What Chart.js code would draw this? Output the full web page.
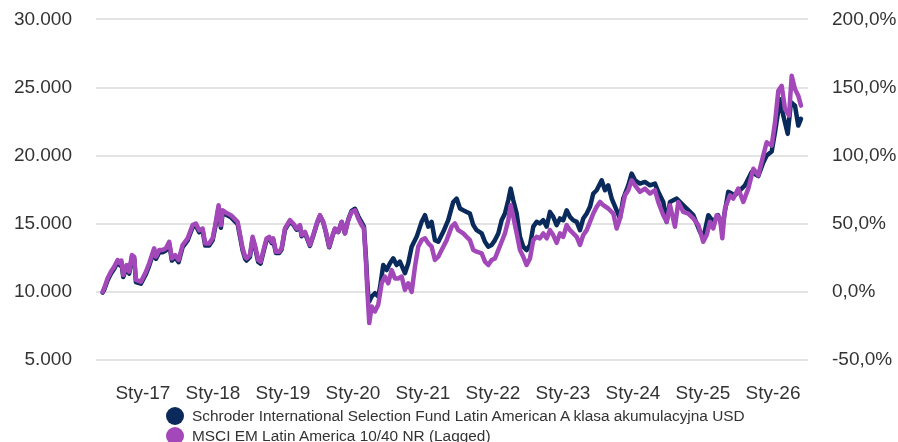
<!DOCTYPE html>
<html>
<head>
<meta charset="utf-8">
<script src="https://cdn.jsdelivr.net/npm/chart.js@4.4.1/dist/chart.umd.min.js"></script>
<style>
  html, body { margin: 0; padding: 0; background: #fff; }
  #wrap { position: relative; width: 898px; height: 442px; overflow: hidden; font-family: "Liberation Sans", Arial, sans-serif; }
  #c { position: absolute; left: 0; top: -16px; }
  .leg { position: absolute; left: 166px; height: 20px; line-height: 20px; font-size: 15.4px; color: #333; white-space: nowrap; }
  .leg span.dot { position: absolute; left: 0; top: 1px; width: 18px; height: 18px; border-radius: 50%; }
  .leg span.txt { position: absolute; left: 26px; top: 0; }
</style>
</head>
<body>
<div id="wrap">
  <canvas id="c" width="898" height="458"></canvas>
  <div class="leg" style="top:406px"><span class="dot" style="background:#0a2a5c"></span><span class="txt">Schroder International Selection Fund Latin American A klasa akumulacyjna USD</span></div>
  <div class="leg" style="top:426px"><span class="dot" style="background:#a348b9"></span><span class="txt">MSCI EM Latin America 10/40 NR (Lagged)</span></div>
</div>
<script>
// Series names
const seriesNames = [
  "Schroder International Selection Fund Latin American A klasa akumulacyjna USD",
  "MSCI EM Latin America 10/40 NR (Lagged)"
];

// x values are decimal years
const indexDates = [
  2016.424,2016.447,2016.496,2016.543,2016.590,2016.639,2016.671,2016.693,2016.719,2016.767,
  2016.804,2016.843,2016.876,2016.900,2016.971,2017.043,2017.090,2017.161,2017.186,2017.233,
  2017.281,2017.329,2017.376,2017.414,2017.461,2017.510,2017.567,2017.639,2017.710,2017.757,
  2017.804,2017.853,2017.890,2017.947,2017.996,2018.033,2018.081,2018.114,2018.139,2018.210,
  2018.257,2018.304,2018.353,2018.424,2018.461,2018.481,2018.529,2018.567,2018.600,2018.647,
  2018.681,2018.729,2018.767,2018.804,2018.839,2018.861,2018.900,2018.947,2018.981,2019.029,
  2019.100,2019.147,2019.196,2019.243,2019.267,2019.314,2019.386,2019.433,2019.490,2019.529,
  2019.576,2019.614,2019.661,2019.710,2019.743,2019.790,2019.839,2019.886,2019.933,2019.981,
  2020.029,2020.076,2020.124,2020.157,2020.186,2020.204,2020.233,2020.267,2020.314,2020.361,
  2020.410,2020.457,2020.504,2020.553,2020.600,2020.647,2020.696,2020.743,2020.790,2020.839,
  2020.886,2020.933,2020.981,2021.029,2021.076,2021.124,2021.171,2021.219,2021.267,2021.339,
  2021.410,2021.457,2021.504,2021.576,2021.624,2021.671,2021.719,2021.767,2021.839,2021.886,
  2021.933,2021.981,2022.029,2022.076,2022.124,2022.171,2022.219,2022.253,2022.290,2022.339,
  2022.386,2022.433,2022.481,2022.529,2022.576,2022.624,2022.671,2022.719,2022.767,2022.814,
  2022.861,2022.910,2022.957,2023.004,2023.053,2023.100,2023.147,2023.196,2023.243,2023.290,
  2023.339,2023.386,2023.433,2023.481,2023.529,2023.576,2023.647,2023.719,2023.767,2023.814,
  2023.886,2023.933,2023.981,2024.029,2024.100,2024.171,2024.243,2024.314,2024.361,2024.433,
  2024.481,2024.529,2024.600,2024.647,2024.719,2024.790,2024.861,2024.933,2025.004,2025.053,
  2025.100,2025.147,2025.196,2025.243,2025.276,2025.314,2025.386,2025.433,2025.504,2025.576,
  2025.647,2025.719,2025.790,2025.861,2025.910,2025.981,2026.029,2026.076,2026.124,2026.171,
  2026.229,2026.267,2026.314,2026.361,2026.400
];
const indexValues = [
  10000,10270,11000,11480,11850,12340,12100,12300,11240,11970,
  11480,12700,12580,10880,10750,11480,12100,13200,12580,13070,
  13070,13200,13680,12460,12700,12340,13440,13930,14900,15020,
  14530,14650,13560,13560,13930,14900,16360,14900,15990,15750,
  15630,15390,15140,13200,12580,12460,12700,14040,13440,12340,
  12220,13200,13930,14040,13680,13930,12950,12950,13200,14650,
  15260,15020,14650,14900,14170,14410,13440,14170,15140,15630,
  15140,14410,13320,14170,14650,14410,15140,14290,15260,15870,
  15990,15390,14900,14650,12220,10270,7710,8930,8560,9050,
  10630,11120,10630,11600,10990,10990,11120,10150,10630,10000,
  11850,13320,13800,13930,13560,13320,12340,12580,13070,13800,
  14790,15020,14530,14290,14040,13800,13070,12950,12830,12220,
  11970,12340,12460,13070,13680,14290,15260,16360,15510,14290,
  13070,12580,11970,12460,13800,14040,13930,14290,13930,14530,
  14170,13600,14290,14040,14900,14530,14290,14040,13440,14170,
  14530,15140,15750,16240,16600,16360,16120,15750,14650,15390,
  17090,17460,18190,17820,17340,17580,17220,17460,16600,15630,
  15140,16360,14790,16600,15870,15750,15390,14900,13680,14170,
  15140,14650,15630,15390,13930,16120,17090,16850,17580,16600,
  17580,19040,18550,20010,20980,20740,22440,24770,25130,23430,
  22940,25860,24890,24400,23670
];

const fundDates = [
  2016.424,2016.447,2016.496,2016.543,2016.590,2016.639,2016.671,2016.693,2016.719,2016.767,
  2016.804,2016.843,2016.876,2016.900,2016.971,2017.043,2017.090,2017.161,2017.186,2017.233,
  2017.281,2017.329,2017.376,2017.414,2017.461,2017.510,2017.567,2017.639,2017.710,2017.757,
  2017.804,2017.853,2017.890,2017.947,2017.996,2018.033,2018.081,2018.114,2018.139,2018.210,
  2018.257,2018.304,2018.353,2018.424,2018.461,2018.481,2018.529,2018.567,2018.600,2018.647,
  2018.681,2018.729,2018.767,2018.804,2018.839,2018.861,2018.900,2018.947,2018.981,2019.029,
  2019.100,2019.147,2019.196,2019.243,2019.267,2019.314,2019.386,2019.433,2019.490,2019.529,
  2019.576,2019.614,2019.661,2019.710,2019.743,2019.790,2019.839,2019.886,2019.933,2019.981,
  2020.029,2020.076,2020.124,2020.157,2020.186,2020.204,2020.219,2020.233,2020.267,2020.314,
  2020.361,2020.386,2020.433,2020.481,2020.529,2020.576,2020.624,2020.671,2020.743,2020.790,
  2020.839,2020.910,2020.981,2021.029,2021.076,2021.124,2021.171,2021.219,2021.290,2021.361,
  2021.433,2021.481,2021.529,2021.576,2021.624,2021.671,2021.719,2021.767,2021.839,2021.886,
  2021.933,2021.981,2022.029,2022.076,2022.124,2022.171,2022.219,2022.253,2022.290,2022.339,
  2022.386,2022.433,2022.481,2022.529,2022.576,2022.624,2022.671,2022.719,2022.767,2022.814,
  2022.861,2022.910,2022.957,2023.004,2023.053,2023.100,2023.147,2023.196,2023.243,2023.290,
  2023.339,2023.386,2023.433,2023.481,2023.553,2023.600,2023.647,2023.696,2023.767,2023.814,
  2023.861,2023.933,2023.981,2024.029,2024.100,2024.171,2024.243,2024.314,2024.361,2024.433,
  2024.481,2024.529,2024.624,2024.719,2024.790,2024.861,2024.957,2025.004,2025.076,2025.147,
  2025.214,2025.276,2025.361,2025.457,2025.600,2025.696,2025.790,2025.861,2025.910,2025.981,
  2026.029,2026.100,2026.147,2026.210,2026.257,2026.314,2026.361,2026.400
];
const fundValues = [
  9950,10150,10850,11330,11700,12180,11950,12150,11100,11800,
  11330,12550,12420,10720,10600,11300,11930,13030,12420,12900,
  12900,13030,13520,12300,12540,12180,13280,13780,14740,14860,
  14370,14490,13400,13400,13780,14740,16150,14700,15800,15600,
  15480,15230,14980,13050,12430,12300,12560,13900,13300,12200,
  12080,13080,13820,13940,13580,13830,12850,12850,13110,14560,
  15180,14940,14570,14820,14090,14330,13380,14110,15080,15580,
  15090,14360,13270,14130,14620,14390,15130,14300,15300,15950,
  16100,15550,15100,14800,12500,10800,9660,9300,9660,9900,
  9660,10300,11970,11600,12100,12460,11970,12220,11370,12100,
  13320,14040,15140,15630,14790,15140,13800,13680,14410,15260,
  16600,16850,16120,15990,15870,15750,14900,14530,14290,13680,
  13320,13440,13800,14290,15260,15750,16730,17580,16730,15750,
  14040,13320,13070,13440,14790,15140,15020,15260,14790,15870,
  15510,14900,15390,15260,15990,15510,15260,15140,14530,15390,
  15750,16240,17220,17460,18190,17460,17820,16850,15990,15390,
  16850,17820,18680,18190,17950,18070,17820,17950,17340,16600,
  15140,16600,16850,16360,16000,15630,14410,13930,15630,15140,
  15630,14800,17340,17100,17820,18800,18500,19500,20010,20300,
  21720,24150,22940,21600,23920,23670,22210,22700
];

// Axis ticks
const xTickYears = [2017,2018,2019,2020,2021,2022,2023,2024,2025,2026];
const leftTicks = [5000,10000,15000,20000,25000,30000];
const rightTicks = [-50,0,50,100,150,200];

const colors = ["#0a2a5c", "#a348b9"];

function toPts(xs, ys) { return xs.map((x, i) => ({ x: x, y: ys[i] })); }
function fmtThousands(v) {
  const s = Math.round(v).toString();
  return s.replace(/\B(?=(\d{3})+(?!\d))/g, ".");
}

const tickFont = { family: "'Liberation Sans', Arial, sans-serif", size: 19 };
const tickColor = "#333333";

new Chart(document.getElementById("c"), {
  type: "line",
  data: {
    datasets: [
      { label: seriesNames[0], data: toPts(fundDates, fundValues), borderColor: colors[0], backgroundColor: colors[0],
        borderWidth: 4.5, pointRadius: 0, tension: 0, yAxisID: "y", order: 1, borderJoinStyle: "round", borderCapStyle: "round" },
      { label: seriesNames[1], data: toPts(indexDates, indexValues), borderColor: colors[1], backgroundColor: colors[1],
        borderWidth: 4.5, pointRadius: 0, tension: 0, yAxisID: "y", order: 0, borderJoinStyle: "round", borderCapStyle: "round" }
    ]
  },
  options: {
    responsive: false,
    animation: false,
    events: [],
    layout: { padding: { top: 2, bottom: 0, left: 0, right: 0 } },
    plugins: { legend: { display: false }, tooltip: { enabled: false } },
    scales: {
      x: {
        type: "linear",
        min: 2016.33,
        max: 2026.5,
        grid: { display: false },
        border: { display: false },
        afterBuildTicks: (s) => { s.ticks = xTickYears.map(v => ({ value: v })); },
        afterFit: (s) => { s.height = 82; },
        ticks: {
          autoSkip: false, maxRotation: 0, padding: 14,
          font: tickFont, color: tickColor,
          callback: (v) => "Sty-" + String(v).slice(2)
        }
      },
      y: {
        position: "left",
        min: 5000, max: 30000,
        afterBuildTicks: (s) => { s.ticks = leftTicks.map(v => ({ value: v })); },
        afterFit: (s) => { s.width = 96; },
        grid: { color: "#e3e3e3", lineWidth: 2, drawTicks: false },
        border: { display: false },
        ticks: { padding: 24, font: tickFont, color: tickColor, callback: (v) => fmtThousands(v) }
      },
      y2: {
        position: "right",
        min: -50, max: 200,
        afterBuildTicks: (s) => { s.ticks = rightTicks.map(v => ({ value: v })); },
        afterFit: (s) => { s.width = 90; },
        grid: { drawOnChartArea: false, drawTicks: false },
        border: { display: false },
        ticks: { padding: 24, font: tickFont, color: tickColor, callback: (v) => v.toFixed(1).replace(".", ",") + "%" }
      }
    }
  }
});
</script>
</body>
</html>
